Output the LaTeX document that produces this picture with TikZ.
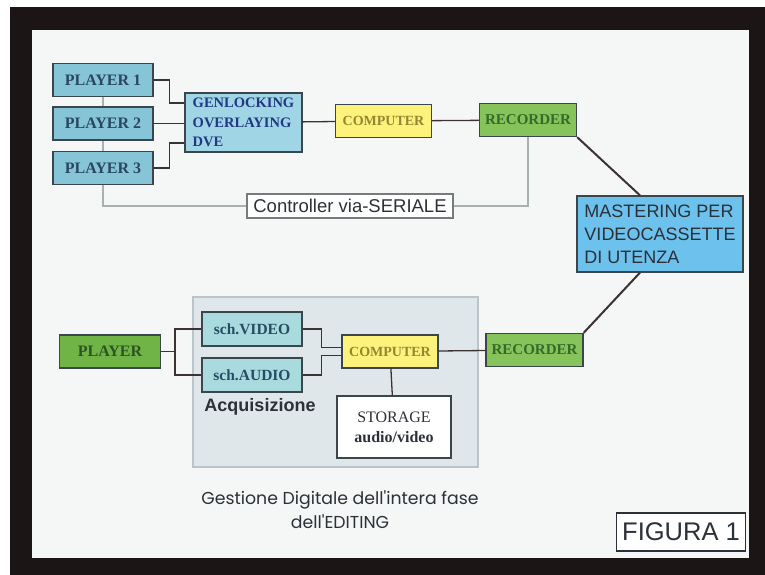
\documentclass[tikz,border=0pt]{standalone}
\usepackage{fontspec}
\setmainfont{Liberation Serif}
\setsansfont{Liberation Sans}
\newfontfamily\geofont{Poppins}
\usetikzlibrary{positioning, calc, backgrounds}

\definecolor{frameblack}{HTML}{1B1515}
\definecolor{screen}{HTML}{F5F7F6}
\definecolor{boxline}{HTML}{3A464C}
\definecolor{wire}{HTML}{3B3232}
\definecolor{softwire}{HTML}{A9B0B0}
\definecolor{playerblue}{HTML}{86C5D7}
\definecolor{genblue}{HTML}{A0D5E6}
\definecolor{masterblue}{HTML}{6CC2EC}
\definecolor{compyellow}{HTML}{FCF27C}
\definecolor{recgreen}{HTML}{86C35A}
\definecolor{playgreen}{HTML}{70B446}
\definecolor{schteal}{HTML}{A9DBDE}
\definecolor{acqgray}{HTML}{DFE7EA}
\definecolor{acqline}{HTML}{B9C5C9}
\definecolor{slatetext}{HTML}{2B4660}
\definecolor{olivetext}{HTML}{958630}
\definecolor{greentext}{HTML}{37692A}
\definecolor{darktext}{HTML}{2C3038}

\tikzset{
	box/.style = {draw=boxline, line width=1.4pt, inner sep=0pt, font=\fontsize{15.5}{16}\selectfont\bfseries},
	playerbox/.style = {box, fill=playerblue, text=slatetext, minimum width=100pt, minimum height=33pt, font=\fontsize{16}{16}\selectfont\bfseries},
	schbox/.style = {box, fill=schteal, text=slatetext!90!teal, minimum width=100pt, minimum height=34pt, font=\fontsize{15.5}{16}\selectfont\bfseries},
	compbox/.style = {box, fill=compyellow, text=olivetext, minimum width=96pt, minimum height=33pt, font=\fontsize{14}{16}\selectfont\bfseries},
	recbox/.style = {box, fill=recgreen, text=greentext, minimum width=97pt, minimum height=33pt, font=\fontsize{15}{16}\selectfont\bfseries},
	link/.style = {draw=wire, line width=1.3pt},
	softlink/.style = {draw=softwire, line width=1.1pt},
	thicklink/.style = {draw=wire, line width=2pt}
}

\begin{document}
\begin{tikzpicture}[x=1pt, y=-1pt]
	\useasboundingbox (0,0) rectangle (765,575);
	\begin{scope}[on background layer]
		\fill[white] (0,0) rectangle (765,575);
		\fill[frameblack] (10,7) rectangle (765,575);
		\fill[screen] (32,30) rectangle (749,558);
	\end{scope}

	\node[playerbox] (p1) at (103,80) {PLAYER 1};
	\node[playerbox] (p2) at (103,123.5) {PLAYER 2};
	\node[playerbox] (p3) at (103,168) {PLAYER 3};
	\node[box, fill=genblue, text=slatetext!80!blue, minimum width=117pt, minimum height=59pt, align=left, font=\fontsize{14.5}{19.5}\selectfont\bfseries] (gen) at (243.5,122.5) {GENLOCKING\\OVERLAYING\\DVE\hspace{68pt}};
	\node[compbox] (comp1) at (383.5,121) {COMPUTER};
	\node[recbox] (rec1) at (528,120) {RECORDER};
	\node[draw=softwire!70!black, fill=white, line width=1.1pt, inner sep=0pt, minimum width=206pt, minimum height=24pt, font=\sffamily\fontsize{18.5}{20}\selectfont, text=darktext] (ctrl) at (350,206) {Controller via-SERIALE};
	\node[box, fill=masterblue, text=darktext, minimum width=166pt, minimum height=76pt, align=left, font=\sffamily\fontsize{18}{23}\selectfont] (mast) at (660,234) {MASTERING PER\\VIDEOCASSETTE\\DI UTENZA\hspace{60pt}};

	\node[draw=acqline, fill=acqgray, line width=1.1pt, inner sep=0pt, minimum width=285pt, minimum height=170pt] (acq) at (335.5,382) {};
	\node[box, fill=playgreen, text=greentext!80!black, minimum width=101pt, minimum height=33pt, font=\fontsize{16}{16}\selectfont\bfseries] (pl) at (110,351.5) {PLAYER};
	\node[schbox] (vid) at (252,329) {sch.VIDEO};
	\node[schbox] (aud) at (252,375) {sch.AUDIO};
	\node[compbox] (comp2) at (390,351.5) {COMPUTER};
	\node[box, fill=white, text=darktext, minimum width=114pt, minimum height=62pt, align=center, font=\fontsize{16}{20}\selectfont] (stor) at (394,427) {STORAGE\\\textbf{audio/video}};
	\node[recbox] (rec2) at (534.5,350) {RECORDER};
	\node[font=\sffamily\bfseries\fontsize{18}{20}\selectfont, text=darktext] (acqlabel) at (260,407) {Acquisizione};

	\node[font=\geofont\fontsize{17.3}{24}\selectfont, text=darktext, align=center] (gest) at (340,510) {Gestione Digitale dell'intera fase\\dell'EDITING};
	\node[draw=darktext, fill=white, line width=1.3pt, inner sep=0pt, minimum width=129pt, minimum height=38pt, font=\sffamily\fontsize{25.5}{27}\selectfont, text=darktext] (fig) at (681,532) {FIGURA 1};

	\coordinate (g1) at ($(gen.west)+(0,-19.5)$);
	\coordinate (g3) at ($(gen.west)+(0,20.5)$);
	\coordinate (fk) at (175,351.5);
	\coordinate (cv) at ($(comp2.west)+(-20,-4)$);
	\coordinate (ca) at ($(comp2.west)+(-20,4)$);
	\coordinate (mtop) at ($(mast.north west)!0.38!(mast.north east)$);
	\coordinate (mbot) at ($(mast.south west)!0.38!(mast.south east)$);

	\begin{scope}[on background layer]
		\draw[softlink] (p1.south) |- (ctrl.west);
		\draw[softlink] (rec1.south) |- (ctrl.east);
	\end{scope}

	\draw[link] (p1.east) -- ++(16,0) |- (g1);
	\draw[link] (p2.east) -- (p2.east -| gen.west);
	\draw[link] (p3.east) -- ++(16,0) |- (g3);
	\draw[link] (gen) -- (comp1);
	\draw[link] (comp1) -- (rec1);
	\draw[thicklink] (rec1.south east) -- (mtop);
	\draw[thicklink] (rec2.north east) -- (mbot);

	\draw[link] (pl.east) -- (fk);
	\draw[link] (vid.west) -| (fk) |- (aud.west);
	\draw[link] (vid.east) -| (cv) -- (cv -| comp2.west);
	\draw[link] (aud.east) -| (ca) -- (ca -| comp2.west);
	\draw[link] (comp2) -- (stor);
	\draw[link] (comp2) -- (rec2);
\end{tikzpicture}
\end{document}
